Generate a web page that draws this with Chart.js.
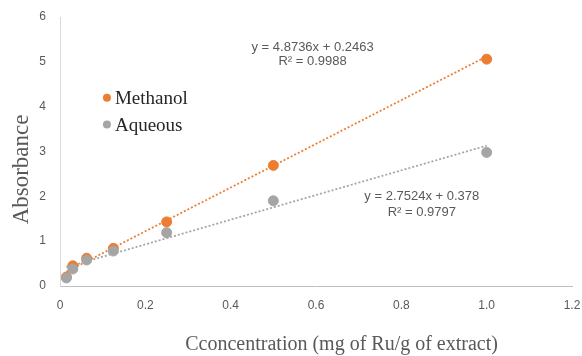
<!DOCTYPE html>
<html>
<head>
<meta charset="utf-8">
<script src="https://cdn.jsdelivr.net/npm/chart.js@4.4.0/dist/chart.umd.min.js"></script>
<style>
html,body{margin:0;padding:0;background:#fff;}
#wrap{width:582px;height:356px;position:relative;}
</style>
</head>
<body>
<div id="wrap"><canvas id="c" width="582" height="356"></canvas></div>
<script>
const concentrations = [0.015, 0.03, 0.0625, 0.125, 0.25, 0.5, 1];
const methanolValues = [0.2, 0.45, 0.62, 0.84, 1.43, 2.69, 5.06];
const aqueousValues = [0.18, 0.38, 0.58, 0.78, 1.19, 1.9, 2.98];
const trendX = [0.015, 1];
const methanolTrend = [0.319, 5.12];
const aqueousTrend = [0.419, 3.13];
const xTicks = [0, 0.2, 0.4, 0.6, 0.8, 1, 1.2];
const yTicks = [0, 1, 2, 3, 4, 5, 6];
const seriesNames = ['Methanol', 'Aqueous'];
const xTitle = 'Cconcentration (mg of Ru/g of extract)';
const yTitle = 'Absorbance';
const equations = [
  {x: 0.592, y: 5.33, text: 'y = 4.8736x + 0.2463', r: 'R\u00b2 = 0.9988', ry: 5.01},
  {x: 0.848, y: 2.0, text: 'y = 2.7524x + 0.378', r: 'R\u00b2 = 0.9797', ry: 1.64}
];
const legendPos = {x: 0.11, y: [4.2, 3.6]};
const titlePos = {x: 0.66, y: 2.6};

const ORANGE = '#ED7D31';
const GRAY = '#A5A5A5';

function pts(xs, ys){ return xs.map((x,i)=>({x:x, y:ys[i]})); }

const overlay = {
  id: 'overlay',
  afterDatasetsDraw(chart){
    const ctx = chart.ctx;
    const xs = chart.scales.x, ys = chart.scales.y;
    ctx.save();
    ctx.fillStyle = '#595959';
    ctx.font = '13px "Liberation Sans", Arial, sans-serif';
    ctx.textAlign = 'center';
    ctx.textBaseline = 'middle';
    equations.forEach(e=>{
      ctx.fillText(e.text, xs.getPixelForValue(e.x), ys.getPixelForValue(e.y));
      ctx.fillText(e.r, xs.getPixelForValue(e.x), ys.getPixelForValue(e.ry));
    });
    // axis titles
    ctx.fillStyle = '#595959';
    ctx.font = '20px "Liberation Serif", "Times New Roman", serif';
    ctx.fillText(xTitle, xs.getPixelForValue(titlePos.x), 345);
    ctx.save();
    ctx.translate(22, ys.getPixelForValue(titlePos.y));
    ctx.rotate(-Math.PI/2);
    ctx.font = '23px "Liberation Serif", "Times New Roman", serif';
    ctx.fillText(yTitle, 0, 0);
    ctx.restore();
    // legend
    const colors = [ORANGE, GRAY];
    ctx.font = '19px "Liberation Serif", "Times New Roman", serif';
    ctx.textAlign = 'left';
    seriesNames.forEach((n,i)=>{
      const px = xs.getPixelForValue(legendPos.x);
      const py = ys.getPixelForValue(legendPos.y[i]);
      ctx.fillStyle = colors[i];
      ctx.beginPath(); ctx.arc(px, py, 4, 0, Math.PI*2); ctx.fill();
      ctx.fillStyle = '#262626';
      ctx.fillText(n, px + 8, py + 1);
    });
    ctx.restore();
  }
};

new Chart(document.getElementById('c'), {
  type: 'scatter',
  data: {
    datasets: [
      {label: seriesNames[0]+' trend', type:'line', data: pts(trendX, methanolTrend), borderColor: ORANGE, borderWidth: 1.75, borderDash:[2,2], pointRadius:0, fill:false, order: 4},
      {label: seriesNames[1]+' trend', type:'line', data: pts(trendX, aqueousTrend), borderColor: GRAY, borderWidth: 1.75, borderDash:[2,2], pointRadius:0, fill:false, order: 3},
      {label: seriesNames[0], data: pts(concentrations, methanolValues), backgroundColor: ORANGE, borderColor: ORANGE, pointRadius: 5, order: 2},
      {label: seriesNames[1], data: pts(concentrations, aqueousValues), backgroundColor: GRAY, borderColor: GRAY, pointRadius: 5, order: 1}
    ]
  },
  options: {
    responsive: false,
    animation: false,
    layout: {padding: {left: 0, right: 0, top: 17, bottom: 0}},
    plugins: {legend: {display: false}, tooltip: {enabled: false}},
    scales: {
      x: {
        type: 'linear', min: 0, max: 1.2,
        afterBuildTicks(s){ s.ticks = xTicks.map(v=>({value:v})); },
        grid: {display: false, drawTicks: false},
        border: {color: '#BFBFBF', width: 1},
        ticks: {padding: 12, color: '#595959', font: {size: 12, family: '"Liberation Sans", Arial, sans-serif'}},
        afterFit(s){ s.height = 70; s.paddingRight = 10; s.paddingLeft = 0; }
      },
      y: {
        type: 'linear', min: 0, max: 6,
        afterBuildTicks(s){ s.ticks = yTicks.map(v=>({value:v})); },
        grid: {display: false, drawTicks: false},
        border: {color: '#D9D9D9', width: 1},
        ticks: {padding: 14, color: '#595959', font: {size: 12, family: '"Liberation Sans", Arial, sans-serif'}},
        afterFit(s){ s.width = 60; s.paddingTop = 0; s.paddingBottom = 0; }
      }
    }
  },
  plugins: [overlay]
});
</script>
</body>
</html>
